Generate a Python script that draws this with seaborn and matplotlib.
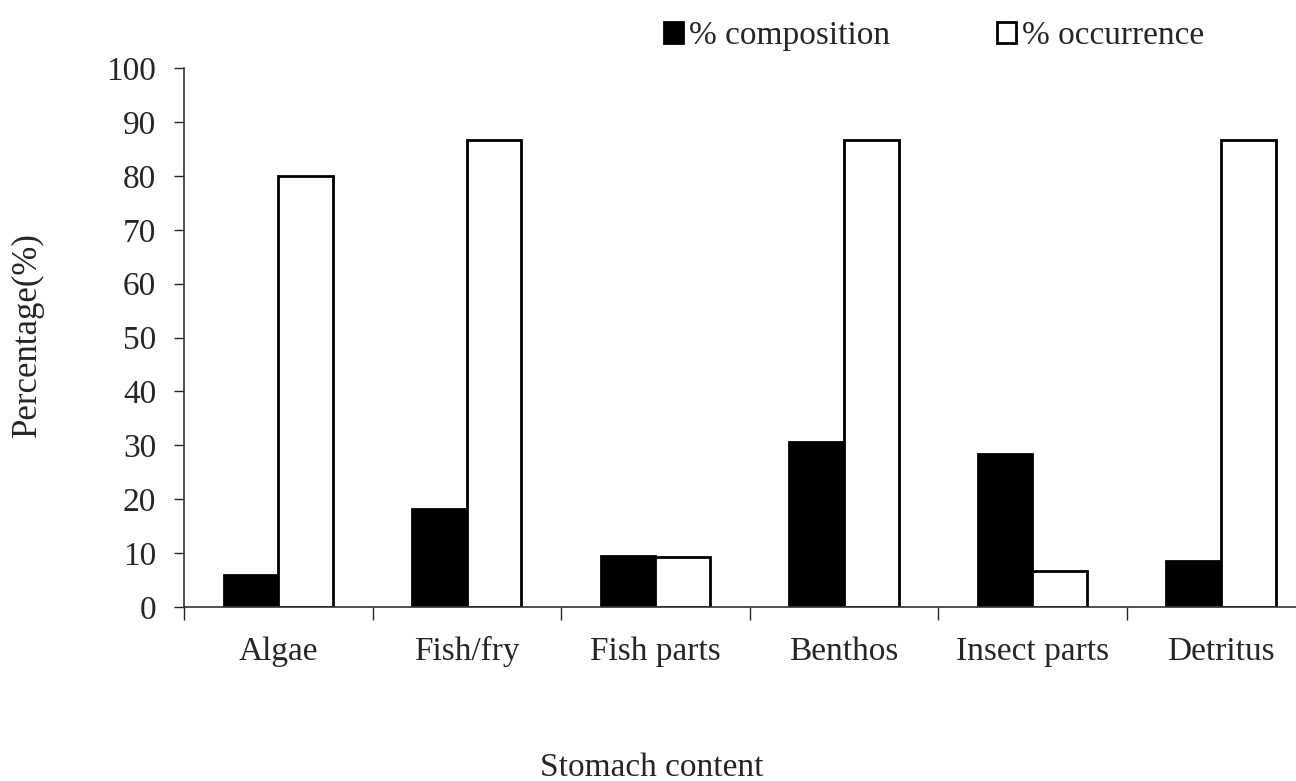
import numpy as np
import pandas as pd
import seaborn as sns
import matplotlib.pyplot as plt
from matplotlib.ticker import FixedLocator

# Values
categories = ["Algae", "Fish/fry", "Fish parts", "Benthos", "Insect parts", "Detritus"]
composition = [6.0, 18.2, 9.4, 30.7, 28.3, 8.6]
occurrence = [80.0, 86.7, 9.2, 86.7, 6.6, 86.7]
series = ["% composition", "% occurrence"]

df = pd.DataFrame({
    "Stomach content": categories * 2,
    "Percentage": composition + occurrence,
    "Series": [series[0]] * len(categories) + [series[1]] * len(categories),
})

sns.set_style("white")
plt.rcParams["font.family"] = ["Liberation Serif", "DejaVu Serif"]

fig = plt.figure(figsize=(12.96, 7.81), dpi=100)
ax = fig.add_axes([0.142, 0.2228, 0.8655, 0.690])

sns.barplot(data=df, x="Stomach content", y="Percentage", hue="Series",
            hue_order=series, palette=["black", "white"], edgecolor="black",
            linewidth=2.0, width=0.58, gap=0, ax=ax)

ax.set_ylim(0, 100)
ax.set_xlim(-0.5, 5.45)
ax.set_yticks(np.arange(0, 101, 10))
ax.tick_params(axis="y", direction="out", length=7, width=1, labelsize=24, pad=13, left=True)
ax.tick_params(axis="x", which="major", length=0, labelsize=24, pad=21)
ax.xaxis.set_minor_locator(FixedLocator(np.arange(-0.5, 6, 1.0)))
ax.tick_params(axis="x", which="minor", direction="out", length=9, width=1, bottom=True)

for s in ["top", "right"]:
    ax.spines[s].set_visible(False)
for s in ["left", "bottom"]:
    ax.spines[s].set_color("#333333")
    ax.spines[s].set_linewidth(1.2)

ax.set_ylabel("Percentage(%)", fontsize=25)
ax.yaxis.set_label_coords(-0.125, 0.505)
ax.set_xlabel("Stomach content", fontsize=24, va="top")
ax.xaxis.set_label_coords(0.417, -0.27)

sns.move_legend(ax, "center", bbox_to_anchor=(0.721, 0.954), bbox_transform=fig.transFigure,
                ncol=2, frameon=False, title=None, fontsize=24,
                handlelength=0.55, handleheight=0.6, handletextpad=0.2, columnspacing=3.2)

fig.savefig("out.png", dpi=100)
